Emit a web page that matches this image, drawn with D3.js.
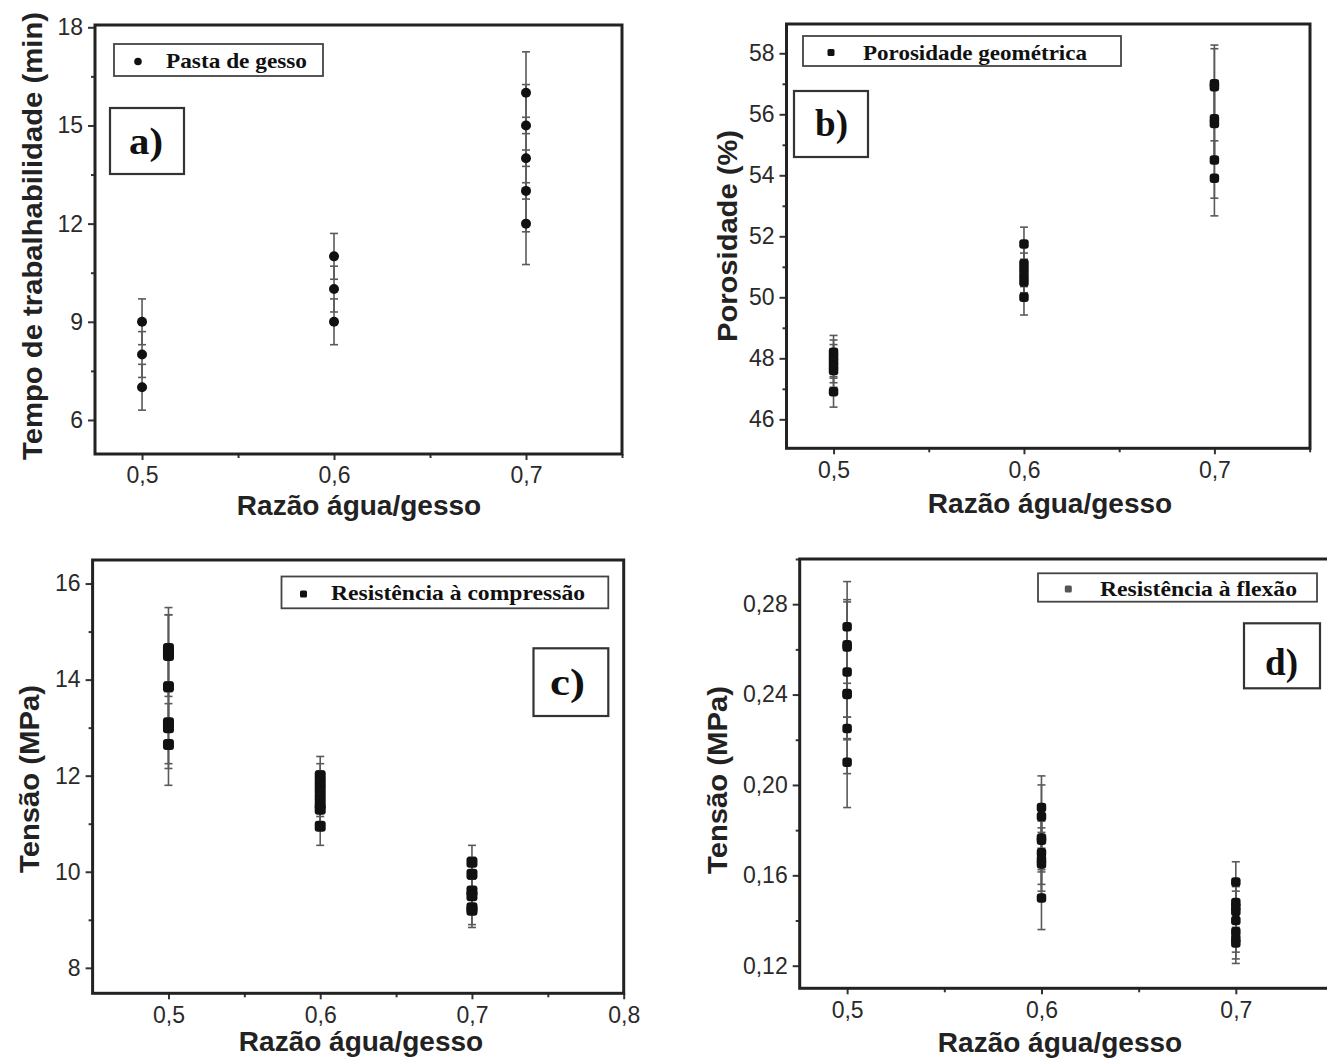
<!DOCTYPE html>
<html><head><meta charset="utf-8">
<script src="https://cdn.jsdelivr.net/npm/d3@7/dist/d3.min.js"></script>
<style>body{margin:0;background:#fff}</style>
</head><body>
<svg id="chart" width="1327" height="1058"></svg>
<script>
// ---------- DATA ----------
// a) working time of the gypsum paste
const ratioA = [0.5, 0.5, 0.5, 0.6, 0.6, 0.6, 0.7, 0.7, 0.7, 0.7, 0.7];
const workTime = [9, 8, 7, 11, 10, 9, 16, 15, 14, 13, 12];
const workTimeErr = [0.7, 0.7, 0.7, 0.7, 0.7, 0.7, 1.25, 1.25, 1.25, 1.25, 1.25];

// b) geometric porosity
const ratioB = [0.5, 0.5, 0.5, 0.5, 0.5, 0.5, 0.6, 0.6, 0.6, 0.6, 0.6, 0.6, 0.7, 0.7, 0.7, 0.7, 0.7, 0.7];
const porosity = [48.2, 48.05, 47.9, 47.75, 47.6, 46.9, 51.75, 51.1, 50.9, 50.7, 50.5, 50.0, 57.0, 56.9, 55.85, 55.7, 54.5, 53.9];
const porosityErr = [0.55, 0.55, 0.55, 0.55, 0.55, 0.5, 0.55, 0.55, 0.55, 0.55, 0.55, 0.58, 1.27, 1.25, 1.25, 1.25, 1.25, 1.23];

// c) compressive strength
const ratioC = [0.5, 0.5, 0.5, 0.5, 0.5, 0.5, 0.5, 0.6, 0.6, 0.6, 0.6, 0.6, 0.6, 0.6, 0.7, 0.7, 0.7, 0.7, 0.7, 0.7];
const compression = [14.65, 14.55, 14.5, 13.85, 13.1, 13.0, 12.65, 12.0, 11.85, 11.7, 11.55, 11.4, 11.3, 10.95, 10.2, 9.95, 9.6, 9.5, 9.25, 9.2];
const compressionErr = [0.85, 0.8, 0.85, 0.85, 0.85, 0.85, 0.85, 0.4, 0.4, 0.4, 0.4, 0.4, 0.4, 0.4, 0.35, 0.35, 0.35, 0.35, 0.35, 0.36];

// d) flexural strength
const ratioD = [0.5, 0.5, 0.5, 0.5, 0.5, 0.5, 0.5, 0.5, 0.6, 0.6, 0.6, 0.6, 0.6, 0.6, 0.6, 0.6, 0.7, 0.7, 0.7, 0.7, 0.7, 0.7, 0.7, 0.7];
const flexure = [0.27, 0.262, 0.261, 0.25, 0.2405, 0.24, 0.225, 0.21, 0.19, 0.186, 0.1765, 0.1755, 0.17, 0.167, 0.165, 0.15, 0.157, 0.148, 0.146, 0.144, 0.14, 0.135, 0.132, 0.13];
const flexureErr = [0.02, 0.02, 0.02, 0.02, 0.02, 0.02, 0.02, 0.02, 0.014, 0.014, 0.014, 0.014, 0.014, 0.014, 0.014, 0.014, 0.009, 0.009, 0.009, 0.009, 0.009, 0.009, 0.009, 0.009];

// ticks
const xTicksAB = [0.5, 0.6, 0.7];
const xMinorAB = [0.55, 0.65, 0.75];
const xTicksC = [0.5, 0.6, 0.7, 0.8];
const xMinorC = [0.55, 0.65, 0.75];
const yTicksA = [6, 9, 12, 15, 18];
const yMinorA = [7.5, 10.5, 13.5, 16.5];
const yTicksB = [46, 48, 50, 52, 54, 56, 58];
const yMinorB = [47, 49, 51, 53, 55, 57];
const yTicksC = [8, 10, 12, 14, 16];
const yMinorC = [9, 11, 13, 15];
const yTicksD = [0.12, 0.16, 0.20, 0.24, 0.28];
const yMinorD = [0.14, 0.18, 0.22, 0.26, 0.30];

// texts
const xTitle = "Razão água/gesso";
const yTitleA = "Tempo de trabalhabilidade (min)";
const yTitleB = "Porosidade (%)";
const yTitleC = "Tensão (MPa)";
const yTitleD = "Tensão (MPa)";
const legendA = "Pasta de gesso";
const legendB = "Porosidade geométrica";
const legendC = "Resistência à compressão";
const legendD = "Resistência à flexão";
const tagA = "a)", tagB = "b)", tagC = "c)", tagD = "d)";

// ---------- DRAW ----------
const svg = d3.select("#chart");
const comma = f => v => d3.format(f)(v).replace(".", ",");

function panel(c) {
  const g = svg.append("g");
  const x = d3.scaleLinear().domain(c.xDomain).range([c.left, c.right]);
  const y = d3.scaleLinear().domain(c.yDomain).range([c.bottom, c.top]);

  // minor ticks
  g.append("g").attr("transform", `translate(0,${c.bottom})`)
    .call(d3.axisBottom(x).tickValues(c.xMinor).tickSize(4).tickFormat(""))
    .call(s => s.select(".domain").remove());
  g.append("g").attr("transform", `translate(${c.left},0)`)
    .call(d3.axisLeft(y).tickValues(c.yMinor.filter(v => v <= c.yDomain[1])).tickSize(4).tickFormat(""))
    .call(s => s.select(".domain").remove());
  // major ticks
  const xa = g.append("g").attr("transform", `translate(0,${c.bottom})`)
    .call(d3.axisBottom(x).tickValues(c.xTicks).tickSize(6).tickPadding(7).tickFormat(comma(".1f")));
  const ya = g.append("g").attr("transform", `translate(${c.left},0)`)
    .call(d3.axisLeft(y).tickValues(c.yTicks).tickSize(7).tickPadding(5).tickFormat(c.yFmt));
  [xa, ya].forEach(a => {
    a.select(".domain").remove();
    a.selectAll("text").attr("font-family", "Liberation Sans, Arial, sans-serif")
      .attr("font-size", 23).attr("fill", "#2a2a2a");
  });
  g.selectAll(".tick line").attr("stroke", "#333").attr("stroke-width", 2);

  // frame
  g.append("rect").attr("x", c.left).attr("y", c.top)
    .attr("width", c.right - c.left).attr("height", c.bottom - c.top)
    .attr("fill", "none").attr("stroke", "#222").attr("stroke-width", 3);

  // error bars
  const pts = c.xs.map((v, i) => ({ x: v, y: c.ys[i], e: c.es[i] }));
  const eb = g.append("g").attr("stroke", "#5a5a5a").attr("stroke-width", 1.6);
  eb.selectAll("line.v").data(pts).join("line").attr("class", "v")
    .attr("x1", d => x(d.x)).attr("x2", d => x(d.x))
    .attr("y1", d => y(d.y - d.e)).attr("y2", d => y(d.y + d.e));
  eb.selectAll("line.t").data(pts).join("line").attr("class", "t")
    .attr("x1", d => x(d.x) - 4).attr("x2", d => x(d.x) + 4)
    .attr("y1", d => y(d.y + d.e)).attr("y2", d => y(d.y + d.e));
  eb.selectAll("line.b").data(pts).join("line").attr("class", "b")
    .attr("x1", d => x(d.x) - 4).attr("x2", d => x(d.x) + 4)
    .attr("y1", d => y(d.y - d.e)).attr("y2", d => y(d.y - d.e));

  // markers
  if (c.round) {
    g.selectAll("circle.m").data(pts).join("circle").attr("class", "m")
      .attr("cx", d => x(d.x)).attr("cy", d => y(d.y)).attr("r", c.msize / 2).attr("fill", "#111");
  } else {
    g.selectAll("rect.m").data(pts).join("rect").attr("class", "m")
      .attr("x", d => x(d.x) - c.msize / 2).attr("y", d => y(d.y) - c.msize / 2)
      .attr("width", c.msize).attr("height", c.msize).attr("rx", 3).attr("fill", "#111");
  }

  // legend
  const L = c.legend;
  g.append("rect").attr("x", L.x0).attr("y", L.y0).attr("width", L.x1 - L.x0).attr("height", L.y1 - L.y0)
    .attr("fill", "#fff").attr("stroke", "#444").attr("stroke-width", 1.8);
  if (c.round) {
    g.append("circle").attr("cx", L.mx).attr("cy", L.my).attr("r", 3.8).attr("fill", "#111");
  } else {
    g.append("rect").attr("x", L.mx - 3.5).attr("y", L.my - 3.5).attr("width", 7).attr("height", 7)
      .attr("rx", 1.5).attr("fill", L.mcolor || "#111");
  }
  g.append("text").attr("x", L.tx0).attr("y", L.base).text(L.text)
    .attr("font-family", "Liberation Serif, Times New Roman, serif").attr("font-weight", "bold")
    .attr("font-size", 21).attr("fill", "#111")
    .attr("textLength", L.tx1 - L.tx0).attr("lengthAdjust", "spacingAndGlyphs");

  // tag box
  const T = c.tag;
  g.append("rect").attr("x", T.x0).attr("y", T.y0).attr("width", T.x1 - T.x0).attr("height", T.y1 - T.y0)
    .attr("fill", "#fff").attr("stroke", "#333").attr("stroke-width", 2.2);
  g.append("text").attr("x", T.tx0).attr("y", T.base).text(T.text)
    .attr("font-family", "Liberation Serif, Times New Roman, serif").attr("font-weight", "bold")
    .attr("font-size", 38).attr("fill", "#111")
    .attr("textLength", T.tx1 - T.tx0).attr("lengthAdjust", "spacingAndGlyphs");

  // axis titles
  g.append("text").attr("x", c.xt.x).attr("y", c.xt.y).attr("text-anchor", "middle").text(xTitle)
    .attr("font-family", "Liberation Sans, Arial, sans-serif").attr("font-weight", "bold")
    .attr("font-size", 28).attr("fill", "#222");
  g.append("text").attr("transform", `translate(${c.yt.x},${c.yt.y}) rotate(-90)`)
    .attr("text-anchor", "middle").attr("dominant-baseline", "central").text(c.yTitle)
    .attr("font-family", "Liberation Sans, Arial, sans-serif").attr("font-weight", "bold")
    .attr("font-size", 28).attr("fill", "#222")
    .attr("textLength", c.yt.len).attr("lengthAdjust", "spacingAndGlyphs");
}

panel({
  left: 95, right: 622, top: 25, bottom: 454,
  xDomain: [0.4755, 0.75], yDomain: [4.96, 18.07],
  xTicks: xTicksAB, xMinor: xMinorAB, yTicks: yTicksA, yMinor: yMinorA, yFmt: d3.format("d"),
  xs: ratioA, ys: workTime, es: workTimeErr, round: true, msize: 10,
  legend: { x0: 114, y0: 44, x1: 323, y1: 76, mx: 138, my: 61.5, tx0: 166, tx1: 307, base: 68, text: legendA },
  tag: { x0: 110, y0: 108, x1: 184, y1: 174, tx0: 129, tx1: 163, base: 154, text: tagA },
  xt: { x: 359, y: 515 }, yt: { x: 32, y: 236, len: 448 }, yTitle: yTitleA
});

panel({
  left: 786.5, right: 1310, top: 24, bottom: 448.3,
  xDomain: [0.4753, 0.7502], yDomain: [45.05, 58.96],
  xTicks: xTicksAB, xMinor: xMinorAB, yTicks: yTicksB, yMinor: yMinorB, yFmt: d3.format("d"),
  xs: ratioB, ys: porosity, es: porosityErr, round: false, msize: 9.5,
  legend: { x0: 803, y0: 36, x1: 1121, y1: 66, mx: 831, my: 52.5, tx0: 863, tx1: 1087, base: 60, text: legendB },
  tag: { x0: 794, y0: 91, x1: 868, y1: 157, tx0: 815, tx1: 848, base: 136, text: tagB },
  xt: { x: 1050, y: 513 }, yt: { x: 727.5, y: 236, len: 212 }, yTitle: yTitleB
});

panel({
  left: 92.6, right: 623.7, top: 560, bottom: 993.3,
  xDomain: [0.45, 0.8], yDomain: [7.47, 16.49],
  xTicks: xTicksC, xMinor: xMinorC, yTicks: yTicksC, yMinor: yMinorC, yFmt: d3.format("d"),
  xs: ratioC, ys: compression, es: compressionErr, round: false, msize: 11,
  legend: { x0: 281.5, y0: 576.5, x1: 608.3, y1: 608.3, mx: 303.5, my: 594, tx0: 331, tx1: 585, base: 600, text: legendC },
  tag: { x0: 533.5, y0: 648.3, x1: 608.3, y1: 716, tx0: 550, tx1: 585, base: 695, text: tagC },
  xt: { x: 361, y: 1051 }, yt: { x: 29.5, y: 779, len: 188 }, yTitle: yTitleC
});

panel({
  left: 799.7, right: 1333, top: 559, bottom: 988.3,
  xDomain: [0.4756, 0.75], yDomain: [0.11, 0.30],
  xTicks: xTicksAB, xMinor: xMinorAB, yTicks: yTicksD, yMinor: yMinorD, yFmt: comma(".2f"),
  xs: ratioD, ys: flexure, es: flexureErr, round: false, msize: 9.5,
  legend: { x0: 1038, y0: 573.3, x1: 1317, y1: 601.7, mx: 1068.3, my: 589, mcolor: "#555", tx0: 1100, tx1: 1297, base: 595.5, text: legendD },
  tag: { x0: 1244, y0: 623.3, x1: 1320, y1: 688.3, tx0: 1265, tx1: 1298, base: 675, text: tagD },
  xt: { x: 1060, y: 1052 }, yt: { x: 717, y: 780, len: 188 }, yTitle: yTitleD
});
</script>
</body></html>
